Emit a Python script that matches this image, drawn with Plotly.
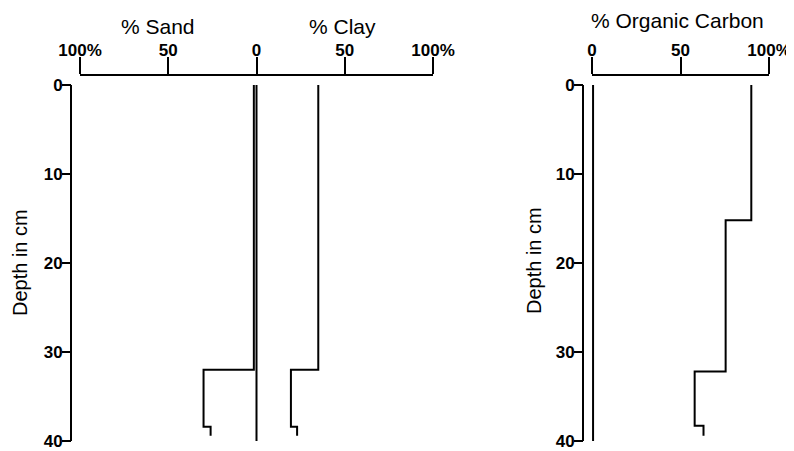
import plotly.graph_objects as go

W, H = 794, 451
OFF = 8  # default page body margin shifts the figure by 8px

def px(p):
    return (p - OFF) / W

def py(p):
    return 1 - (p - OFF) / H

# ---- data ----
depth_steps = [0, 32, 38.4, 39.4]          # depth (cm) at each step top, last = bottom
sand_pct = [1.5, 30, 26, 26]                # % sand (plotted to the left)
clay_pct = [35, 19.5, 23, 23]               # % clay
oc_depth = [0, 15.2, 32.2, 38.3, 39.4]
oc_pct = [90, 75.5, 58, 63, 63]             # % organic carbon
ref_depth = [0, 40]
ref_left = [0, 0]
ref_right = [0.6, 0.6]

depth_ticks = [0, 10, 20, 30, 40]
sc_tickvals = [-100, -50, 0, 50, 100]
sc_ticktext = ["100%", "50", "0", "50", "100%"]
oc_tickvals = [0, 50, 100]
oc_ticktext = ["0", "50", "100%"]

FONT = "Liberation Sans, Arial, Helvetica, sans-serif"
line = dict(color="black", width=2)

fig = go.Figure()
fig.add_trace(go.Scatter(x=[-v for v in sand_pct], y=depth_steps, mode="lines",
                         line=dict(**line, shape="vh"), xaxis="x", yaxis="y"))
fig.add_trace(go.Scatter(x=clay_pct, y=depth_steps, mode="lines",
                         line=dict(**line, shape="vh"), xaxis="x", yaxis="y"))
fig.add_trace(go.Scatter(x=ref_left, y=ref_depth, mode="lines",
                         line=line, xaxis="x", yaxis="y"))
fig.add_trace(go.Scatter(x=oc_pct, y=oc_depth, mode="lines",
                         line=dict(**line, shape="vh"), xaxis="x2", yaxis="y2"))
fig.add_trace(go.Scatter(x=ref_right, y=ref_depth, mode="lines",
                         line=line, xaxis="x2", yaxis="y2"))

ydom = [py(441), py(85)]
xpos = py(75)
tickfont = dict(family=FONT, size=17, color="black", weight="bold")

common_x = dict(side="top", anchor="free", position=xpos, showline=True, linecolor="black",
                linewidth=2, ticks="outside", ticklen=17, tickwidth=2, tickcolor="black",
                showgrid=False, zeroline=False, tickfont=tickfont, fixedrange=True,
                automargin=False, ticklabelstandoff=-6)
common_y = dict(domain=ydom, range=[40, 0], anchor="free", showline=False,
                ticks="outside", ticklen=9, tickwidth=2, tickcolor="black",
                showgrid=False, zeroline=False, tickfont=tickfont, automargin=False,
                ticklabelstandoff=-4,
                tickvals=depth_ticks, ticktext=[str(t) for t in depth_ticks])

fig.update_layout(
    width=W, height=H, margin=dict(l=0, r=0, t=0, b=0, autoexpand=False),
    paper_bgcolor="white", plot_bgcolor="white", showlegend=False,
    xaxis=dict(domain=[px(80), px(433)], range=[-100, 100],
               tickvals=sc_tickvals, ticktext=sc_ticktext, **common_x),
    yaxis=dict(position=px(71), **common_y),
    xaxis2=dict(domain=[px(592), px(769)], range=[0, 100],
                tickvals=oc_tickvals, ticktext=oc_ticktext, **common_x),
    yaxis2=dict(position=px(583), **common_y),
)

# y-axis lines spanning depth 0-40
for xp, yr in [(px(71), "y"), (px(583), "y2")]:
    fig.add_shape(type="line", xref="paper", yref=yr, x0=xp, x1=xp, y0=0, y1=40,
                  line=dict(color="black", width=2))

tfont = dict(family=FONT, size=21, color="black")
dfont = dict(family=FONT, size=20, color="black")
for txt, x, y, ang, f in [("% Sand", 158, 27, 0, tfont), ("% Clay", 342, 27, 0, tfont),
                          ("% Organic Carbon", 677, 21, 0, tfont),
                          ("Depth in cm", 20, 263, -90, dfont),
                          ("Depth in cm", 534, 261, -90, dfont)]:
    fig.add_annotation(text=txt, x=px(x), y=py(y), xref="paper", yref="paper",
                       xanchor="center", yanchor="middle", showarrow=False,
                       textangle=ang, font=f)

fig.write_html("out.html")
